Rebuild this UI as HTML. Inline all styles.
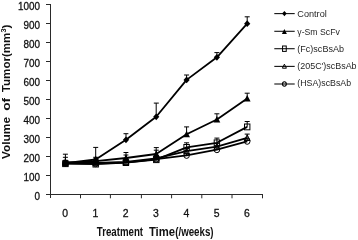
<!DOCTYPE html>
<html><head><meta charset="utf-8"><title>chart</title>
<style>
html,body{margin:0;padding:0;background:#fff;}
body{width:358px;height:240px;overflow:hidden;font-family:"Liberation Sans",sans-serif;}
svg{display:block;will-change:transform;}
text{font-family:"Liberation Sans",sans-serif;fill:#111;stroke:#111;stroke-width:0.3px;}
text.b{stroke-width:0;}
text.l{fill:#262626;stroke:none;}
</style></head><body>
<svg width="358" height="240" viewBox="0 0 358 240">
<rect width="358" height="240" fill="#fff"/>

<g stroke="#2a2a2a" stroke-width="1" fill="none" shape-rendering="crispEdges">
<line x1="50.5" y1="4" x2="50.5" y2="198"/>
<line x1="47" y1="194.5" x2="263" y2="194.5"/>
<line x1="46" y1="194.5" x2="51" y2="194.5"/>
<line x1="46" y1="175.5" x2="51" y2="175.5"/>
<line x1="46" y1="156.5" x2="51" y2="156.5"/>
<line x1="46" y1="137.5" x2="51" y2="137.5"/>
<line x1="46" y1="118.5" x2="51" y2="118.5"/>
<line x1="46" y1="99.5" x2="51" y2="99.5"/>
<line x1="46" y1="80.5" x2="51" y2="80.5"/>
<line x1="46" y1="61.5" x2="51" y2="61.5"/>
<line x1="46" y1="42.5" x2="51" y2="42.5"/>
<line x1="46" y1="23.5" x2="51" y2="23.5"/>
<line x1="46" y1="4.5" x2="51" y2="4.5"/>
</g>
<g stroke="#2a2a2a" stroke-width="1" fill="none">
<line x1="80.5" y1="194" x2="80.5" y2="198.3"/>
<line x1="110.4" y1="194" x2="110.4" y2="198.3"/>
<line x1="141.4" y1="194" x2="141.4" y2="198.3"/>
<line x1="171.6" y1="194" x2="171.6" y2="198.3"/>
<line x1="201.8" y1="194" x2="201.8" y2="198.3"/>
<line x1="232.0" y1="194" x2="232.0" y2="198.3"/>
<line x1="262.5" y1="194" x2="262.5" y2="198.3"/>
</g>
<text x="34.4" y="199.6" font-size="11" textLength="5.5" lengthAdjust="spacingAndGlyphs">0</text>
<text x="23.4" y="180.6" font-size="11" textLength="16.5" lengthAdjust="spacingAndGlyphs">100</text>
<text x="23.4" y="161.6" font-size="11" textLength="16.5" lengthAdjust="spacingAndGlyphs">200</text>
<text x="23.4" y="142.6" font-size="11" textLength="16.5" lengthAdjust="spacingAndGlyphs">300</text>
<text x="23.4" y="123.6" font-size="11" textLength="16.5" lengthAdjust="spacingAndGlyphs">400</text>
<text x="23.4" y="104.6" font-size="11" textLength="16.5" lengthAdjust="spacingAndGlyphs">500</text>
<text x="23.4" y="85.6" font-size="11" textLength="16.5" lengthAdjust="spacingAndGlyphs">600</text>
<text x="23.4" y="66.6" font-size="11" textLength="16.5" lengthAdjust="spacingAndGlyphs">700</text>
<text x="23.4" y="47.6" font-size="11" textLength="16.5" lengthAdjust="spacingAndGlyphs">800</text>
<text x="23.4" y="28.6" font-size="11" textLength="16.5" lengthAdjust="spacingAndGlyphs">900</text>
<text x="17.9" y="9.6" font-size="11" textLength="22.0" lengthAdjust="spacingAndGlyphs">1000</text>
<text x="62.2" y="216.8" font-size="11" textLength="5.8" lengthAdjust="spacingAndGlyphs">0</text>
<text x="92.5" y="216.8" font-size="11" textLength="5.8" lengthAdjust="spacingAndGlyphs">1</text>
<text x="122.8" y="216.8" font-size="11" textLength="5.8" lengthAdjust="spacingAndGlyphs">2</text>
<text x="153.1" y="216.8" font-size="11" textLength="5.8" lengthAdjust="spacingAndGlyphs">3</text>
<text x="183.4" y="216.8" font-size="11" textLength="5.8" lengthAdjust="spacingAndGlyphs">4</text>
<text x="213.7" y="216.8" font-size="11" textLength="5.8" lengthAdjust="spacingAndGlyphs">5</text>
<text x="244.0" y="216.8" font-size="11" textLength="5.8" lengthAdjust="spacingAndGlyphs">6</text>
<text x="96.8" y="236" font-size="12" class="b" font-weight="bold" textLength="46.3" lengthAdjust="spacingAndGlyphs">Treatment</text>
<text x="148.9" y="236" font-size="12" class="b" font-weight="bold" textLength="26.2" lengthAdjust="spacingAndGlyphs">Time</text>
<text x="175.2" y="236" font-size="12" class="b" font-weight="bold" textLength="38.4" lengthAdjust="spacingAndGlyphs">(/weeks)</text>
<text transform="translate(10.1,159.0) rotate(-90) scale(1,0.86)" font-size="12.2" class="b" font-weight="bold" textLength="42" lengthAdjust="spacingAndGlyphs">Volume</text>
<text transform="translate(10.1,110.8) rotate(-90) scale(1,0.86)" font-size="12.2" class="b" font-weight="bold" textLength="13" lengthAdjust="spacingAndGlyphs">of</text>
<text transform="translate(10.1,92.2) rotate(-90) scale(1,0.86)" font-size="12.2" class="b" font-weight="bold" textLength="67.6" lengthAdjust="spacingAndGlyphs">Tumor(mm<tspan font-size="7.8" dy="-4.4">3</tspan><tspan dy="4.4">)</tspan></text>
<path d="M65.4 163.2V154.2M62.9 154.2H67.9" stroke="#000" stroke-width="1" fill="none"/><path d="M95.7 159.5V147.4M93.2 147.4H98.2" stroke="#000" stroke-width="1" fill="none"/><path d="M126.0 139.8V133.7M123.5 133.7H128.4" stroke="#000" stroke-width="1" fill="none"/><path d="M156.2 116.8V103.1M153.8 103.1H158.8" stroke="#000" stroke-width="1" fill="none"/><path d="M186.6 79.9V75.0M184.1 75.0H189.1" stroke="#000" stroke-width="1" fill="none"/><path d="M216.9 57.3V52.6M214.4 52.6H219.4" stroke="#000" stroke-width="1" fill="none"/><path d="M247.2 23.7V16.8M244.7 16.8H249.7" stroke="#000" stroke-width="1" fill="none"/>
<path d="M65.4 163.2V157.3M62.9 157.3H67.9" stroke="#000" stroke-width="1" fill="none"/><path d="M95.7 161.1V157.3M93.2 157.3H98.2" stroke="#000" stroke-width="1" fill="none"/><path d="M126.0 158.0V152.5M123.5 152.5H128.4" stroke="#000" stroke-width="1" fill="none"/><path d="M156.2 154.0V147.6M153.8 147.6H158.8" stroke="#000" stroke-width="1" fill="none"/><path d="M186.6 134.3V126.9M184.1 126.9H189.1" stroke="#000" stroke-width="1" fill="none"/><path d="M216.9 119.5V113.8M214.4 113.8H219.4" stroke="#000" stroke-width="1" fill="none"/><path d="M247.2 98.5V93.2M244.7 93.2H249.7" stroke="#000" stroke-width="1" fill="none"/>
<path d="M65.4 163.7V161.2M62.9 161.2H67.9" stroke="#000" stroke-width="1" fill="none"/><path d="M95.7 164.1V162.2M93.2 162.2H98.2" stroke="#000" stroke-width="1" fill="none"/><path d="M126.0 162.6V158.4M123.5 158.4H128.4" stroke="#000" stroke-width="1" fill="none"/><path d="M156.2 159.7V155.6M153.8 155.6H158.8" stroke="#000" stroke-width="1" fill="none"/><path d="M186.6 147.4V142.8M184.1 142.8H189.1" stroke="#000" stroke-width="1" fill="none"/><path d="M216.9 142.8V138.1M214.4 138.1H219.4" stroke="#000" stroke-width="1" fill="none"/><path d="M247.2 126.9V121.5M244.7 121.5H249.7" stroke="#000" stroke-width="1" fill="none"/>
<path d="M65.4 162.2V160.3M62.9 160.3H67.9" stroke="#000" stroke-width="1" fill="none"/><path d="M95.7 162.8V160.3M93.2 160.3H98.2" stroke="#000" stroke-width="1" fill="none"/><path d="M126.0 161.8V155.0M123.5 155.0H128.4" stroke="#000" stroke-width="1" fill="none"/><path d="M156.2 158.4V150.2M153.8 150.2H158.8" stroke="#000" stroke-width="1" fill="none"/><path d="M186.6 151.2V148.5M184.1 148.5H189.1" stroke="#000" stroke-width="1" fill="none"/><path d="M216.9 146.6V143.6M214.4 143.6H219.4" stroke="#000" stroke-width="1" fill="none"/><path d="M247.2 137.9V134.1M244.7 134.1H249.7" stroke="#000" stroke-width="1" fill="none"/>
<path d="M65.4 163.3V162.2M62.9 162.2H67.9" stroke="#000" stroke-width="1" fill="none"/><path d="M95.7 163.7V162.2M93.2 162.2H98.2" stroke="#000" stroke-width="1" fill="none"/><path d="M126.0 162.6V160.3M123.5 160.3H128.4" stroke="#000" stroke-width="1" fill="none"/><path d="M156.2 159.2V157.4M153.8 157.4H158.8" stroke="#000" stroke-width="1" fill="none"/><path d="M186.6 155.4V153.7M184.1 153.7H189.1" stroke="#000" stroke-width="1" fill="none"/><path d="M216.9 149.7V147.9M214.4 147.9H219.4" stroke="#000" stroke-width="1" fill="none"/><path d="M247.2 141.3V139.0M244.7 139.0H249.7" stroke="#000" stroke-width="1" fill="none"/>
<polyline points="65.4,163.2 95.7,159.5 126.0,139.8 156.2,116.8 186.6,79.9 216.9,57.3 247.2,23.7" fill="none" stroke="#000" stroke-width="1.8" stroke-linejoin="round"/>
<polyline points="65.4,163.2 95.7,161.1 126.0,158.0 156.2,154.0 186.6,134.3 216.9,119.5 247.2,98.5" fill="none" stroke="#000" stroke-width="1.8" stroke-linejoin="round"/>
<polyline points="65.4,163.7 95.7,164.1 126.0,162.6 156.2,159.7 186.6,147.4 216.9,142.8 247.2,126.9" fill="none" stroke="#000" stroke-width="1.8" stroke-linejoin="round"/>
<polyline points="65.4,162.2 95.7,162.8 126.0,161.8 156.2,158.4 186.6,151.2 216.9,146.6 247.2,137.9" fill="none" stroke="#000" stroke-width="1.8" stroke-linejoin="round"/>
<polyline points="65.4,163.3 95.7,163.7 126.0,162.6 156.2,159.2 186.6,155.4 216.9,149.7 247.2,141.3" fill="none" stroke="#000" stroke-width="1.8" stroke-linejoin="round"/>
<path d="M62.3 163.2L65.4 159.8L68.5 163.2L65.4 166.6Z" fill="#000"/>
<path d="M92.6 159.5L95.7 156.1L98.8 159.5L95.7 162.9Z" fill="#000"/>
<path d="M122.9 139.8L126.0 136.4L129.1 139.8L126.0 143.2Z" fill="#000"/>
<path d="M153.2 116.8L156.2 113.4L159.3 116.8L156.2 120.2Z" fill="#000"/>
<path d="M183.5 79.9L186.6 76.5L189.7 79.9L186.6 83.3Z" fill="#000"/>
<path d="M213.8 57.3L216.9 53.9L220.0 57.3L216.9 60.7Z" fill="#000"/>
<path d="M244.1 23.7L247.2 20.3L250.3 23.7L247.2 27.1Z" fill="#000"/>
<path d="M62.0 166.2L65.4 159.7L68.8 166.2Z" fill="#000"/>
<path d="M92.2 164.1L95.7 157.6L99.1 164.1Z" fill="#000"/>
<path d="M122.5 161.0L126.0 154.5L129.3 161.0Z" fill="#000"/>
<path d="M152.8 157.0L156.2 150.5L159.7 157.0Z" fill="#000"/>
<path d="M183.2 137.3L186.6 130.8L190.0 137.3Z" fill="#000"/>
<path d="M213.5 122.5L216.9 116.0L220.3 122.5Z" fill="#000"/>
<path d="M243.8 101.5L247.2 95.0L250.6 101.5Z" fill="#000"/>
<rect x="62.7" y="160.8" width="5.4" height="5.8" fill="none" stroke="#000" stroke-width="1"/>
<rect x="93.0" y="161.2" width="5.4" height="5.8" fill="none" stroke="#000" stroke-width="1"/>
<rect x="123.2" y="159.7" width="5.4" height="5.8" fill="none" stroke="#000" stroke-width="1"/>
<rect x="153.6" y="156.8" width="5.4" height="5.8" fill="none" stroke="#000" stroke-width="1"/>
<rect x="183.9" y="144.5" width="5.4" height="5.8" fill="none" stroke="#000" stroke-width="1"/>
<rect x="214.2" y="139.9" width="5.4" height="5.8" fill="none" stroke="#000" stroke-width="1"/>
<rect x="244.5" y="124.0" width="5.4" height="5.8" fill="none" stroke="#000" stroke-width="1"/>
<path d="M62.5 164.8L65.4 159.1L68.3 164.8Z" fill="none" stroke="#000" stroke-width="1"/>
<path d="M92.8 165.4L95.7 159.7L98.6 165.4Z" fill="none" stroke="#000" stroke-width="1"/>
<path d="M123.0 164.4L126.0 158.7L128.8 164.4Z" fill="none" stroke="#000" stroke-width="1"/>
<path d="M153.3 161.0L156.2 155.3L159.2 161.0Z" fill="none" stroke="#000" stroke-width="1"/>
<path d="M183.7 153.8L186.6 148.1L189.5 153.8Z" fill="none" stroke="#000" stroke-width="1"/>
<path d="M214.0 149.2L216.9 143.5L219.8 149.2Z" fill="none" stroke="#000" stroke-width="1"/>
<path d="M244.3 140.5L247.2 134.8L250.1 140.5Z" fill="none" stroke="#000" stroke-width="1"/>
<ellipse cx="65.4" cy="163.3" rx="2.8" ry="3.0" fill="none" stroke="#000" stroke-width="1"/>
<ellipse cx="95.7" cy="163.7" rx="2.8" ry="3.0" fill="none" stroke="#000" stroke-width="1"/>
<ellipse cx="126.0" cy="162.6" rx="2.8" ry="3.0" fill="none" stroke="#000" stroke-width="1"/>
<ellipse cx="156.2" cy="159.2" rx="2.8" ry="3.0" fill="none" stroke="#000" stroke-width="1"/>
<ellipse cx="186.6" cy="155.4" rx="2.8" ry="3.0" fill="none" stroke="#000" stroke-width="1"/>
<ellipse cx="216.9" cy="149.7" rx="2.8" ry="3.0" fill="none" stroke="#000" stroke-width="1"/>
<ellipse cx="247.2" cy="141.3" rx="2.8" ry="3.0" fill="none" stroke="#000" stroke-width="1"/>
<line x1="274.3" y1="13.6" x2="294.7" y2="13.6" stroke="#111" stroke-width="1.1"/>
<path d="M282.1 13.6L284.4 10.9L286.7 13.6L284.4 16.3Z" fill="#000"/>
<text x="297.3" y="17.4" class="l" font-size="9.4" textLength="29.5" lengthAdjust="spacingAndGlyphs">Control</text>
<line x1="274.3" y1="31.3" x2="294.7" y2="31.3" stroke="#111" stroke-width="1.1"/>
<path d="M281.9 34.0L284.4 29.0L286.9 34.0Z" fill="#000"/>
<text x="297.3" y="34.7" class="l" font-size="9.4" textLength="42.5" lengthAdjust="spacingAndGlyphs">γ-Sm ScFv</text>
<line x1="274.3" y1="48.7" x2="294.7" y2="48.7" stroke="#111" stroke-width="1.1"/>
<rect x="282.55" y="46.00" width="3.7" height="5.4" fill="none" stroke="#000" stroke-width="1"/>
<text x="297.3" y="52.0" class="l" font-size="9.4" textLength="46.7" lengthAdjust="spacingAndGlyphs">(Fc)scBsAb</text>
<line x1="274.3" y1="66.4" x2="294.7" y2="66.4" stroke="#111" stroke-width="1.1"/>
<path d="M282.4 68.2L284.4 64.2L286.4 68.2Z" fill="none" stroke="#000" stroke-width="1"/>
<text x="297.3" y="69.4" class="l" font-size="9.4" textLength="59.3" lengthAdjust="spacingAndGlyphs">(205C')scBsAb</text>
<line x1="274.3" y1="84.0" x2="294.7" y2="84.0" stroke="#111" stroke-width="1.1"/>
<ellipse cx="284.4" cy="84.0" rx="1.9" ry="2.2" fill="none" stroke="#000" stroke-width="1.1"/>
<text x="297.3" y="86.0" class="l" font-size="9.4" textLength="53.8" lengthAdjust="spacingAndGlyphs">(HSA)scBsAb</text>
</svg></body></html>
